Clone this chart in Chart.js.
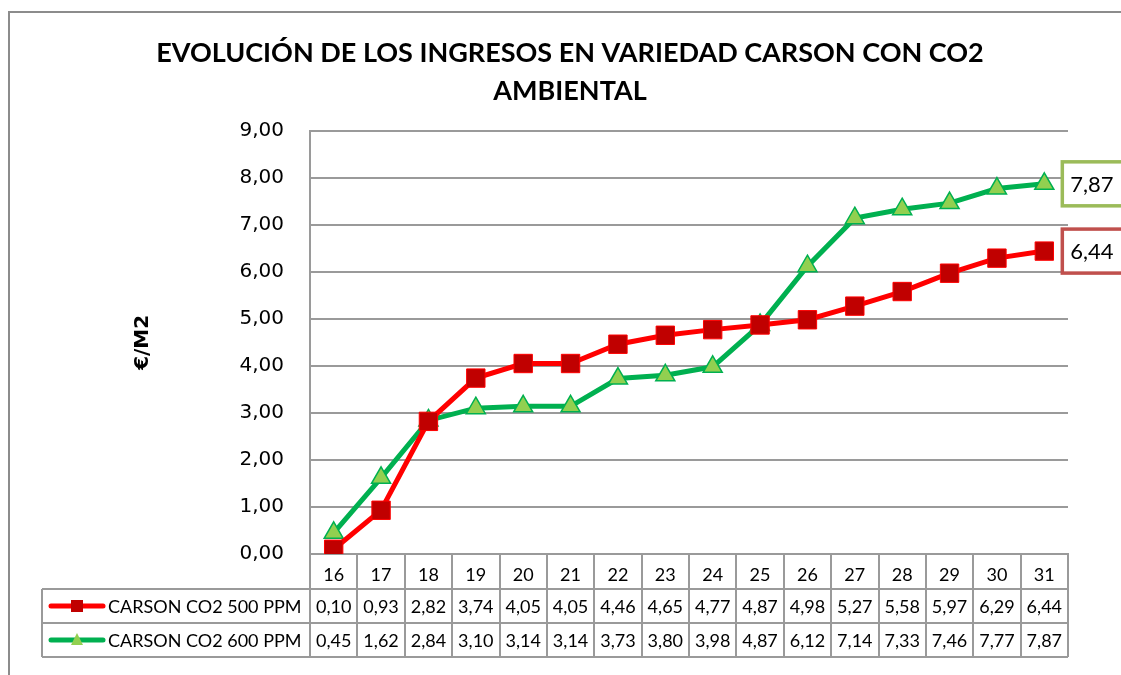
<!DOCTYPE html>
<html>
<head>
<meta charset="utf-8">
<script src="https://cdn.jsdelivr.net/npm/chart.js@4.4.1/dist/chart.umd.min.js"></script>
<style>
  html, body { margin: 0; padding: 0; background: #ffffff; }
  #wrap { width: 1121px; height: 675px; }
</style>
</head>
<body>
<div id="wrap"><canvas id="chart" width="1121" height="675"></canvas></div>
<script>
// ---- data ----
const days = ['16', '17', '18', '19', '20', '21', '22', '23', '24', '25', '26', '27', '28', '29', '30', '31'];
const co2_500 = [0.10, 0.93, 2.82, 3.74, 4.05, 4.05, 4.46, 4.65, 4.77, 4.87, 4.98, 5.27, 5.58, 5.97, 6.29, 6.44];
const co2_600 = [0.45, 1.62, 2.84, 3.10, 3.14, 3.14, 3.73, 3.80, 3.98, 4.87, 6.12, 7.14, 7.33, 7.46, 7.77, 7.87];
const seriesNames = ['CARSON CO2 500 PPM', 'CARSON CO2 600 PPM'];

const RED      = '#FF0000';
const RED_DARK = '#C00000';
const GREEN    = '#00B050';
const GREEN_LT = '#92D050';
const GRID     = '#9A9A9A';

const fmt = v => v.toFixed(2).replace('.', ',');

// outer frame of the chart object
const framePlugin = {
  id: 'frame',
  beforeDraw(chart) {
    const ctx = chart.ctx;
    ctx.save();
    ctx.fillStyle = '#ffffff';
    ctx.fillRect(0, 0, chart.width, chart.height);
    ctx.strokeStyle = '#8C8C8C';
    ctx.lineWidth = 2;
    ctx.strokeRect(9, 12, chart.width + 20, chart.height + 20);
    ctx.restore();
  }
};

// data table under the plot
const tablePlugin = {
  id: 'dataTable',
  afterDraw(chart) {
    const ctx = chart.ctx;
    const area = chart.chartArea;
    const x = chart.scales.x;
    const colW = (area.right - area.left) / days.length;
    const y0 = area.bottom, y1 = y0 + 35, y2 = y1 + 34, y3 = y2 + 34;
    const legL = 42;

    ctx.save();
    ctx.strokeStyle = GRID;
    ctx.lineWidth = 2;
    ctx.beginPath();
    for (let i = 0; i <= days.length; i++) {
      const bx = Math.round(area.left + i * colW);
      ctx.moveTo(bx, y0); ctx.lineTo(bx, y3);
    }
    [y1, y2, y3].forEach(yy => { ctx.moveTo(legL, yy); ctx.lineTo(area.right, yy); });
    ctx.moveTo(legL, y1); ctx.lineTo(legL, y3);
    ctx.stroke();

    const rows = [
      { vals: co2_500, color: RED, fill: RED_DARK, shape: 'rect', yc: (y1 + y2) / 2 },
      { vals: co2_600, color: GREEN, fill: GREEN_LT, shape: 'triangle', yc: (y2 + y3) / 2 },
    ];
    ctx.fillStyle = '#000';
    ctx.font = '18px Lato';
    ctx.textBaseline = 'middle';
    rows.forEach((r, ri) => {
      // legend key
      ctx.strokeStyle = r.color;
      ctx.lineWidth = 5;
      ctx.lineCap = 'round';
      ctx.beginPath(); ctx.moveTo(51, r.yc); ctx.lineTo(103, r.yc); ctx.stroke();
      ctx.lineCap = 'butt';
      ctx.fillStyle = r.fill;
      ctx.beginPath();
      if (r.shape === 'rect') ctx.rect(71, r.yc - 6, 12, 12);
      else { ctx.moveTo(77, r.yc - 7); ctx.lineTo(83, r.yc + 5); ctx.lineTo(71, r.yc + 5); ctx.closePath(); }
      ctx.fill();
      ctx.fillStyle = '#000';
      ctx.textAlign = 'left';
      ctx.fillText(seriesNames[ri], 108, r.yc + 1);
      ctx.textAlign = 'center';
      r.vals.forEach((v, i) => ctx.fillText(fmt(v), x.getPixelForValue(i), r.yc + 1));
    });
    ctx.restore();
  }
};

// boxed value labels on the last points
const endLabelPlugin = {
  id: 'endLabels',
  afterDatasetsDraw(chart) {
    const ctx = chart.ctx;
    const borders = ['#C0504D', '#9BBB59'];
    ctx.save();
    chart.data.datasets.forEach((ds, di) => {
      const meta = chart.getDatasetMeta(di);
      const pt = meta.data[meta.data.length - 1];
      const bx = pt.x + 18, by = pt.y - 22;
      ctx.fillStyle = '#fff';
      ctx.fillRect(bx, by, 80, 44);
      ctx.strokeStyle = borders[di];
      ctx.lineWidth = 3.5;
      ctx.strokeRect(bx, by, 80, 44);
      ctx.fillStyle = '#000';
      ctx.font = '22px Lato';
      ctx.textAlign = 'left';
      ctx.textBaseline = 'middle';
      ctx.fillText(fmt(ds.data[ds.data.length - 1]), bx + 8, pt.y + 1);
    });
    ctx.restore();
  }
};

new Chart(document.getElementById('chart'), {
  type: 'line',
  data: {
    labels: days,
    datasets: [
      {
        label: seriesNames[0],
        data: co2_500,
        borderColor: RED,
        borderWidth: 5,
        pointStyle: 'rect',
        pointRadius: 13,
        pointBackgroundColor: RED_DARK,
        pointBorderColor: RED,
        pointBorderWidth: 1,
        tension: 0,
      },
      {
        label: seriesNames[1],
        data: co2_600,
        borderColor: GREEN,
        borderWidth: 5,
        pointStyle: 'triangle',
        pointRadius: 11,
        pointBackgroundColor: GREEN_LT,
        pointBorderColor: GREEN,
        pointBorderWidth: 1.5,
        tension: 0,
      }
    ]
  },
  options: {
    responsive: false,
    animation: false,
    layout: { padding: { left: 72, right: 53, top: 0, bottom: 20 } },
    plugins: {
      legend: { display: false },
      tooltip: { enabled: false },
      title: {
        display: true,
        text: ['EVOLUCIÓN DE LOS INGRESOS EN VARIEDAD CARSON CON CO2', 'AMBIENTAL'],
        color: '#000',
        font: { family: 'Lato', size: 27, weight: 'bold', lineHeight: 1.42 },
        padding: { top: 34, bottom: 20 }
      }
    },
    scales: {
      x: {
        offset: true,
        grid: { display: false },
        border: { display: true, color: GRID, width: 2 },
        ticks: { color: '#000', font: { family: 'Lato', size: 18 }, padding: 2, maxRotation: 0 },
        afterFit: s => { s.height = 101; }
      },
      y: {
        min: 0,
        max: 9,
        ticks: {
          stepSize: 1,
          color: '#000',
          font: { family: 'DejaVu Sans', size: 20 },
          padding: 26,
          callback: v => fmt(v)
        },
        grid: { color: GRID, lineWidth: 2, tickLength: 0 },
        border: { display: true, color: GRID, width: 2 },
        title: {
          display: true,
          text: '€/M2',
          color: '#000',
          font: { family: 'DejaVu Sans', size: 20, weight: 'bold' },
          padding: { top: 59, bottom: 0 }
        },
        afterFit: s => { s.width = 238; }
      }
    }
  },
  plugins: [framePlugin, tablePlugin, endLabelPlugin]
});
</script>
</body>
</html>
